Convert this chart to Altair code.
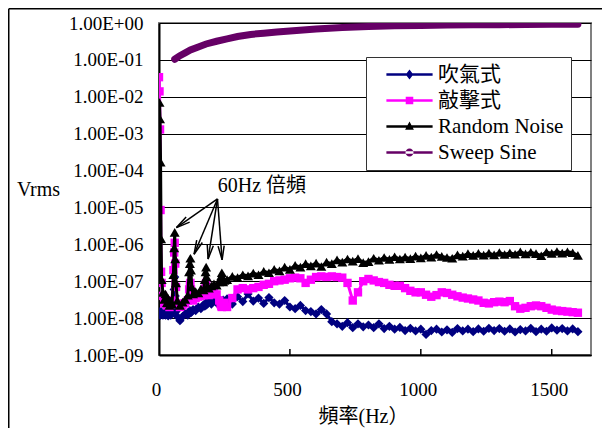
import altair as alt
import pandas as pd

FONT = "'Liberation Serif', 'Noto Sans CJK TC', serif"

SERIES = ["吹氣式", "敲擊式", "Random Noise", "Sweep Sine"]
COLORS = ["#000080", "#FF00FF", "#000000", "#660066"]
SHAPES = ["diamond", "square", "triangle-up", "circle"]

freq = [0, 2, 4, 6, 8, 10, 15, 20, 25, 30, 35, 40, 45, 50, 55, 58, 60, 62, 65, 70,
        80, 90, 100, 110, 115, 118, 120, 122, 125, 130, 140, 150, 160, 170, 175, 178, 180, 182, 185, 190,
        200, 210, 220, 230, 235, 238, 240, 242, 245, 250,
        260, 280, 300, 320, 340, 360, 380, 400, 420, 440, 460, 480, 500, 520, 540, 560, 580, 600, 620, 640,
        660, 680, 700, 720, 740, 760, 780, 800, 820, 840, 860, 880, 900, 920, 940, 960, 980, 1000, 1020, 1040,
        1060, 1080, 1100, 1120, 1140, 1160, 1180, 1200, 1220, 1240, 1260, 1280, 1300, 1320, 1340, 1360, 1380, 1400, 1420, 1440,
        1460, 1480, 1500, 1520, 1540, 1560, 1580, 1600]

blow = [1.5e-8, 1.3e-8, 1.2e-8, 1.4e-8, 1.5e-8, 1.3e-8, 1.2e-8, 1.4e-8, 1.2e-8, 1.35e-8,
        1.15e-8, 1.3e-8, 1.2e-8, 1.4e-8, 2.5e-8, 6e-8, 1.3e-7, 4e-8, 1.5e-8, 1.1e-8,
        8.5e-9, 1.1e-8, 1.3e-8, 1.2e-8, 1.4e-8, 1.6e-8, 1.5e-8, 1.4e-8, 1.5e-8, 1.7e-8,
        1.6e-8, 2e-8, 1.8e-8, 2.3e-8, 2.1e-8, 2.5e-8, 2.3e-8, 2.6e-8, 2.4e-8, 2.8e-8,
        2.4e-8, 3e-8, 2.6e-8, 3.2e-8, 2.7e-8, 2.9e-8, 2.5e-8, 2.8e-8, 3.1e-8, 2.6e-8,
        3.3e-8, 2.4e-8, 3.8e-8, 2.8e-8, 4.5e-8, 2.9e-8, 3.5e-8, 2.5e-8, 3.6e-8, 2.6e-8,
        2.4e-8, 3e-8, 2e-8, 1.8e-8, 2.2e-8, 1.6e-8, 1.5e-8, 1.3e-8, 1.7e-8, 1.3e-8,
        8e-9, 7e-9, 6e-9, 7.5e-9, 5.5e-9, 7e-9, 5.8e-9, 6.5e-9, 5.5e-9, 7e-9,
        5.2e-9, 6e-9, 5e-9, 5.6e-9, 4.6e-9, 5.3e-9, 4.5e-9, 5e-9, 3.6e-9, 4.6e-9,
        5e-9, 4.2e-9, 4.8e-9, 4.1e-9, 5.2e-9, 4.5e-9, 5e-9, 4.3e-9, 5.1e-9, 4.4e-9,
        5.3e-9, 4.6e-9, 5.2e-9, 4.4e-9, 5.1e-9, 4.2e-9, 4.9e-9, 4.5e-9, 5.3e-9, 4.3e-9,
        5e-9, 4.4e-9, 5.4e-9, 4.7e-9, 5.2e-9, 4.5e-9, 5.1e-9, 4.3e-9]

knock = [3.4e-2, 1.4e-2, 1.3e-3, 8.5e-6, 1.8e-7, 9e-8, 4e-8, 2.5e-8, 3e-8, 2.2e-8,
         2.6e-8, 2e-8, 2.4e-8, 3e-8, 2e-7, 6e-7, 1.1e-6, 3e-7, 7e-8, 2.5e-8,
         2e-8, 2.2e-8, 2.5e-8, 3e-8, 6e-8, 8e-8, 9e-8, 6e-8, 3.5e-8, 3e-8,
         3.5e-8, 3.8e-8, 4e-8, 4.2e-8, 6e-8, 8e-8, 9e-8, 6e-8, 4.5e-8, 4.2e-8,
         4.5e-8, 4.8e-8, 4.4e-8, 3e-8, 2.4e-8, 2.1e-8, 2e-8, 2.1e-8, 2.3e-8, 2.6e-8,
         2e-8, 3.5e-8, 6e-8, 6.5e-8, 6e-8, 6.5e-8, 7e-8, 8e-8, 8.5e-8, 1e-7,
         1.05e-7, 1.1e-7, 1.2e-7, 1.25e-7, 1.2e-7, 9e-8, 1.1e-7, 1.3e-7, 1.35e-7, 1.3e-7,
         1.35e-7, 1.3e-7, 1.25e-7, 9e-8, 3e-8, 5e-8, 1e-7, 1.15e-7, 1.05e-7, 9.5e-8,
         9e-8, 8e-8, 7.5e-8, 7.5e-8, 6.5e-8, 5.5e-8, 5e-8, 5e-8, 4.3e-8, 3.8e-8,
         4.2e-8, 5e-8, 4.8e-8, 4.3e-8, 3.9e-8, 3.6e-8, 3.4e-8, 3.2e-8, 3e-8, 2.6e-8,
         2.5e-8, 2.7e-8, 2.8e-8, 2.7e-8, 2.9e-8, 2.1e-8, 1.8e-8, 1.9e-8, 2.1e-8, 2.2e-8,
         2.1e-8, 1.9e-8, 1.7e-8, 1.6e-8, 1.55e-8, 1.5e-8, 1.45e-8, 1.4e-8]

noise = [1.2e-7, 7e-3, 2.5e-3, 1.7e-4, 1.4e-6, 1.1e-7, 5e-8, 3.2e-8, 4.5e-8, 2.6e-8,
         3.4e-8, 2.2e-8, 2.9e-8, 2.4e-8, 1.5e-7, 8e-7, 2.1e-6, 4e-7, 9e-8, 3e-8,
         2.2e-8, 2.7e-8, 3.2e-8, 4.2e-8, 1.8e-7, 3e-7, 4.2e-7, 2e-7, 7e-8, 4.5e-8,
         5.2e-8, 4.8e-8, 6.2e-8, 5.8e-8, 1.1e-7, 1.8e-7, 2.4e-7, 1.3e-7, 7.5e-8, 6.5e-8,
         7.5e-8, 8.5e-8, 7.8e-8, 9.5e-8, 1.2e-7, 1.4e-7, 1.7e-7, 1.2e-7, 9.5e-8, 1.05e-7,
         1.1e-7, 1.35e-7, 1.25e-7, 1.5e-7, 1.4e-7, 1.65e-7, 1.5e-7, 1.85e-7, 1.7e-7, 2.1e-7,
         1.9e-7, 2.4e-7, 2.1e-7, 2.7e-7, 2.4e-7, 3e-7, 2.6e-7, 3.1e-7, 2.5e-7, 3.3e-7,
         3e-7, 3.8e-7, 3.3e-7, 4e-7, 3.5e-7, 4.1e-7, 3.2e-7, 3.4e-7, 4.2e-7, 3.7e-7,
         4.4e-7, 3.9e-7, 4.6e-7, 4e-7, 4.5e-7, 4.1e-7, 4.8e-7, 4.3e-7, 5e-7, 4.5e-7,
         5.3e-7, 4.7e-7, 4.4e-7, 4.2e-7, 5.2e-7, 4.8e-7, 5.6e-7, 5e-7, 5.7e-7, 5.1e-7,
         5.8e-7, 5.2e-7, 6e-7, 5.3e-7, 5.9e-7, 5.4e-7, 6.3e-7, 5.5e-7, 6.1e-7, 5.6e-7,
         4.9e-7, 6.2e-7, 5.7e-7, 6.4e-7, 5.8e-7, 6.3e-7, 5.9e-7, 5e-7]

sweep_freq = [60, 80, 100, 120, 150, 180, 220, 260, 300, 350, 400, 450, 500,
              600, 700, 800, 900, 1000, 1100, 1200, 1300, 1400, 1500, 1600]
sweep = [0.104, 0.13, 0.155, 0.185, 0.225, 0.27, 0.32, 0.37, 0.43, 0.49, 0.53, 0.57, 0.61,
         0.69, 0.75, 0.80, 0.84, 0.86, 0.88, 0.89, 0.90, 0.91, 0.92, 0.93]

x_ticks = [0, 500, 1000, 1500]
x_inner_ticks = [500, 1000, 1500]
y_ticks = [1e-9, 1e-8, 1e-7, 1e-6, 1e-5, 1e-4, 1e-3, 1e-2, 1e-1, 1]

note_text = ["60Hz 倍頻"]
note_f = [224.6]
note_v = [3.8e-5]
arrow_f0 = [223.4, 223.4, 223.4, 223.4]
arrow_v0 = [1.7e-5, 1.7e-5, 1.7e-5, 1.7e-5]
arrow_f1 = [66.6, 133.9, 187.5, 241.0]
arrow_v1 = [2.84e-6, 5.4e-7, 4.0e-7, 3.8e-7]
arrow_angle = [235, 203, 189, 176]

# legend symbols: a short line with the series marker in its middle
LEGEND_LINE = "M-2.2,-0.12H2.2V0.12H-2.2Z"
LEGEND_PATHS = [
    LEGEND_LINE + "M0,-0.48L0.36,0L0,0.48L-0.36,0Z",
    LEGEND_LINE + "M-0.36,-0.36H0.36V0.36H-0.36Z",
    LEGEND_LINE + "M0,-0.48L0.42,0.3H-0.42Z",
    LEGEND_LINE + "M-0.38,0A0.38,0.38 0 1,0 0.38,0A0.38,0.38 0 1,0 -0.38,0Z",
]

# ---------------- data frames ----------------
rows = []
for name, vals in [(SERIES[0], blow), (SERIES[1], knock), (SERIES[2], noise)]:
    for f, v in zip(freq, vals):
        rows.append({"f": f, "v": v, "s": name})
for f, v in zip(sweep_freq, sweep):
    rows.append({"f": f, "v": v, "s": SERIES[3]})
df = pd.DataFrame(rows)

W, H = 432, 332

x_enc = alt.X("f:Q", scale=alt.Scale(domain=[0, 1650], nice=False, zero=False),
              axis=alt.Axis(values=x_ticks, format="d", ticks=False, grid=False, labelFont=FONT,
                            labelFontSize=19, labelColor="black", labelPadding=25, labelOffset=-3,
                            labelFlush=False, labelOverlap=False, domainColor="black", domainWidth=2,
                            title="頻率(Hz）", titleFont=FONT, titleFontSize=20,
                            titleFontWeight="normal", titleColor="black",
                            titleX=204, titleY=61, titleAlign="center", titleBaseline="middle"))
y_enc = alt.Y("v:Q", scale=alt.Scale(type="log", domain=[1e-9, 1], nice=False),
              axis=alt.Axis(values=y_ticks, ticks=False, grid=True, gridColor="black", gridWidth=1,
                            gridOpacity=1,
                            labelExpr="'1.00E' + (datum.value >= 1 ? '+' : '-') + '0' + abs(round(log(datum.value) / LN10))",
                            labelFont=FONT, labelFontSize=19, labelColor="black", labelPadding=16,
                            labelFlush=False, labelOverlap=False, domainColor="black", domainWidth=2,
                            title="Vrms", titleFont=FONT, titleFontSize=20, titleFontWeight="normal",
                            titleColor="black", titleAngle=0, titleX=-121, titleY=166,
                            titleAlign="center", titleBaseline="middle"))

legend = alt.Legend(
    title=None, orient="none", legendX=207, legendY=34, padding=7,
    strokeColor="#333333", fillColor="white",
    labelFont=FONT, labelFontSize=21, labelColor="black",
    symbolSize=441, symbolStrokeWidth=0, symbolOpacity=1,
    symbolOffset=26, labelOffset=18, rowPadding=4,
)
color_scale = alt.Scale(domain=SERIES, range=COLORS)

base = alt.Chart(df)
layers = []

one = pd.DataFrame({"k": [0]})
# outer frame
layers.append(alt.Chart(one).mark_rule(color="black", strokeWidth=1.5).encode(
    x=alt.value(-150.25), y=alt.value(-14.25), y2=alt.value(405)))
layers.append(alt.Chart(one).mark_rule(color="black", strokeWidth=1.5).encode(
    x=alt.value(-150.25), x2=alt.value(443), y=alt.value(-14.25)))

point_sizes = [85, 70, 100]
for i, name in enumerate(SERIES[:3]):
    sub = base.transform_filter(alt.datum.s == name)
    layers.append(sub.mark_line(strokeWidth=3, color=COLORS[i], clip=True).encode(
        x=x_enc, y=y_enc, order="f:Q"))
    layers.append(sub.mark_point(filled=True, shape=SHAPES[i], size=point_sizes[i],
                                 color=COLORS[i], opacity=1, clip=True).encode(
        x=x_enc, y=y_enc))

sub = base.transform_filter(alt.datum.s == SERIES[3])
layers.append(sub.mark_line(strokeWidth=7, strokeCap="round", color=COLORS[3], clip=True).encode(
    x=x_enc, y=y_enc, order="f:Q"))

# legend carrier: one hidden point per series, outside the x domain and clipped
leg_df = pd.DataFrame({"s": SERIES, "f": [-500] * 4, "v": [1e-5] * 4})
layers.append(alt.Chart(leg_df).mark_point(filled=True, clip=True).encode(
    x=x_enc, y=y_enc,
    color=alt.Color("s:N", scale=color_scale, legend=legend),
    shape=alt.Shape("s:N", scale=alt.Scale(domain=SERIES, range=LEGEND_PATHS), legend=legend)))

# inward x ticks
tick_df = pd.DataFrame({"f": x_inner_ticks})
layers.append(alt.Chart(tick_df).mark_rule(color="black", strokeWidth=1.5).encode(
    x=x_enc, y=alt.value(H - 6), y2=alt.value(H)))

# annotation
note_df = pd.DataFrame({"f": note_f, "v": note_v, "t": note_text})
layers.append(alt.Chart(note_df).mark_text(align="left", baseline="middle", font=FONT,
                                           fontSize=20, color="black").encode(
    x=x_enc, y=y_enc, text="t:N"))
arrow_df = pd.DataFrame({"f": arrow_f0, "v": arrow_v0, "f1": arrow_f1, "v1": arrow_v1,
                         "a": arrow_angle})
layers.append(alt.Chart(arrow_df).mark_rule(color="black", strokeWidth=1.5).encode(
    x=x_enc, y=y_enc, x2="f1:Q", y2="v1:Q"))
head_df = pd.DataFrame({"f": arrow_f1, "v": arrow_v1, "a": arrow_angle})
layers.append(alt.Chart(head_df).mark_point(
    shape="M-0.35,1.6L0,0L0.35,1.6", filled=False, color="black", strokeWidth=1.5,
    size=306, opacity=1).encode(
    x=x_enc, y=y_enc, angle=alt.Angle("a:Q", scale=None)))

chart = alt.layer(*layers).properties(
    width=W, height=H,
    autosize=alt.AutoSizeParams(type="none"),
    padding={"left": 151, "top": 15, "right": 11, "bottom": 73},
    background="white",
).configure_view(stroke="#808080", strokeWidth=2)

chart.save("out.html", embed_options={"renderer": "svg", "actions": False})
